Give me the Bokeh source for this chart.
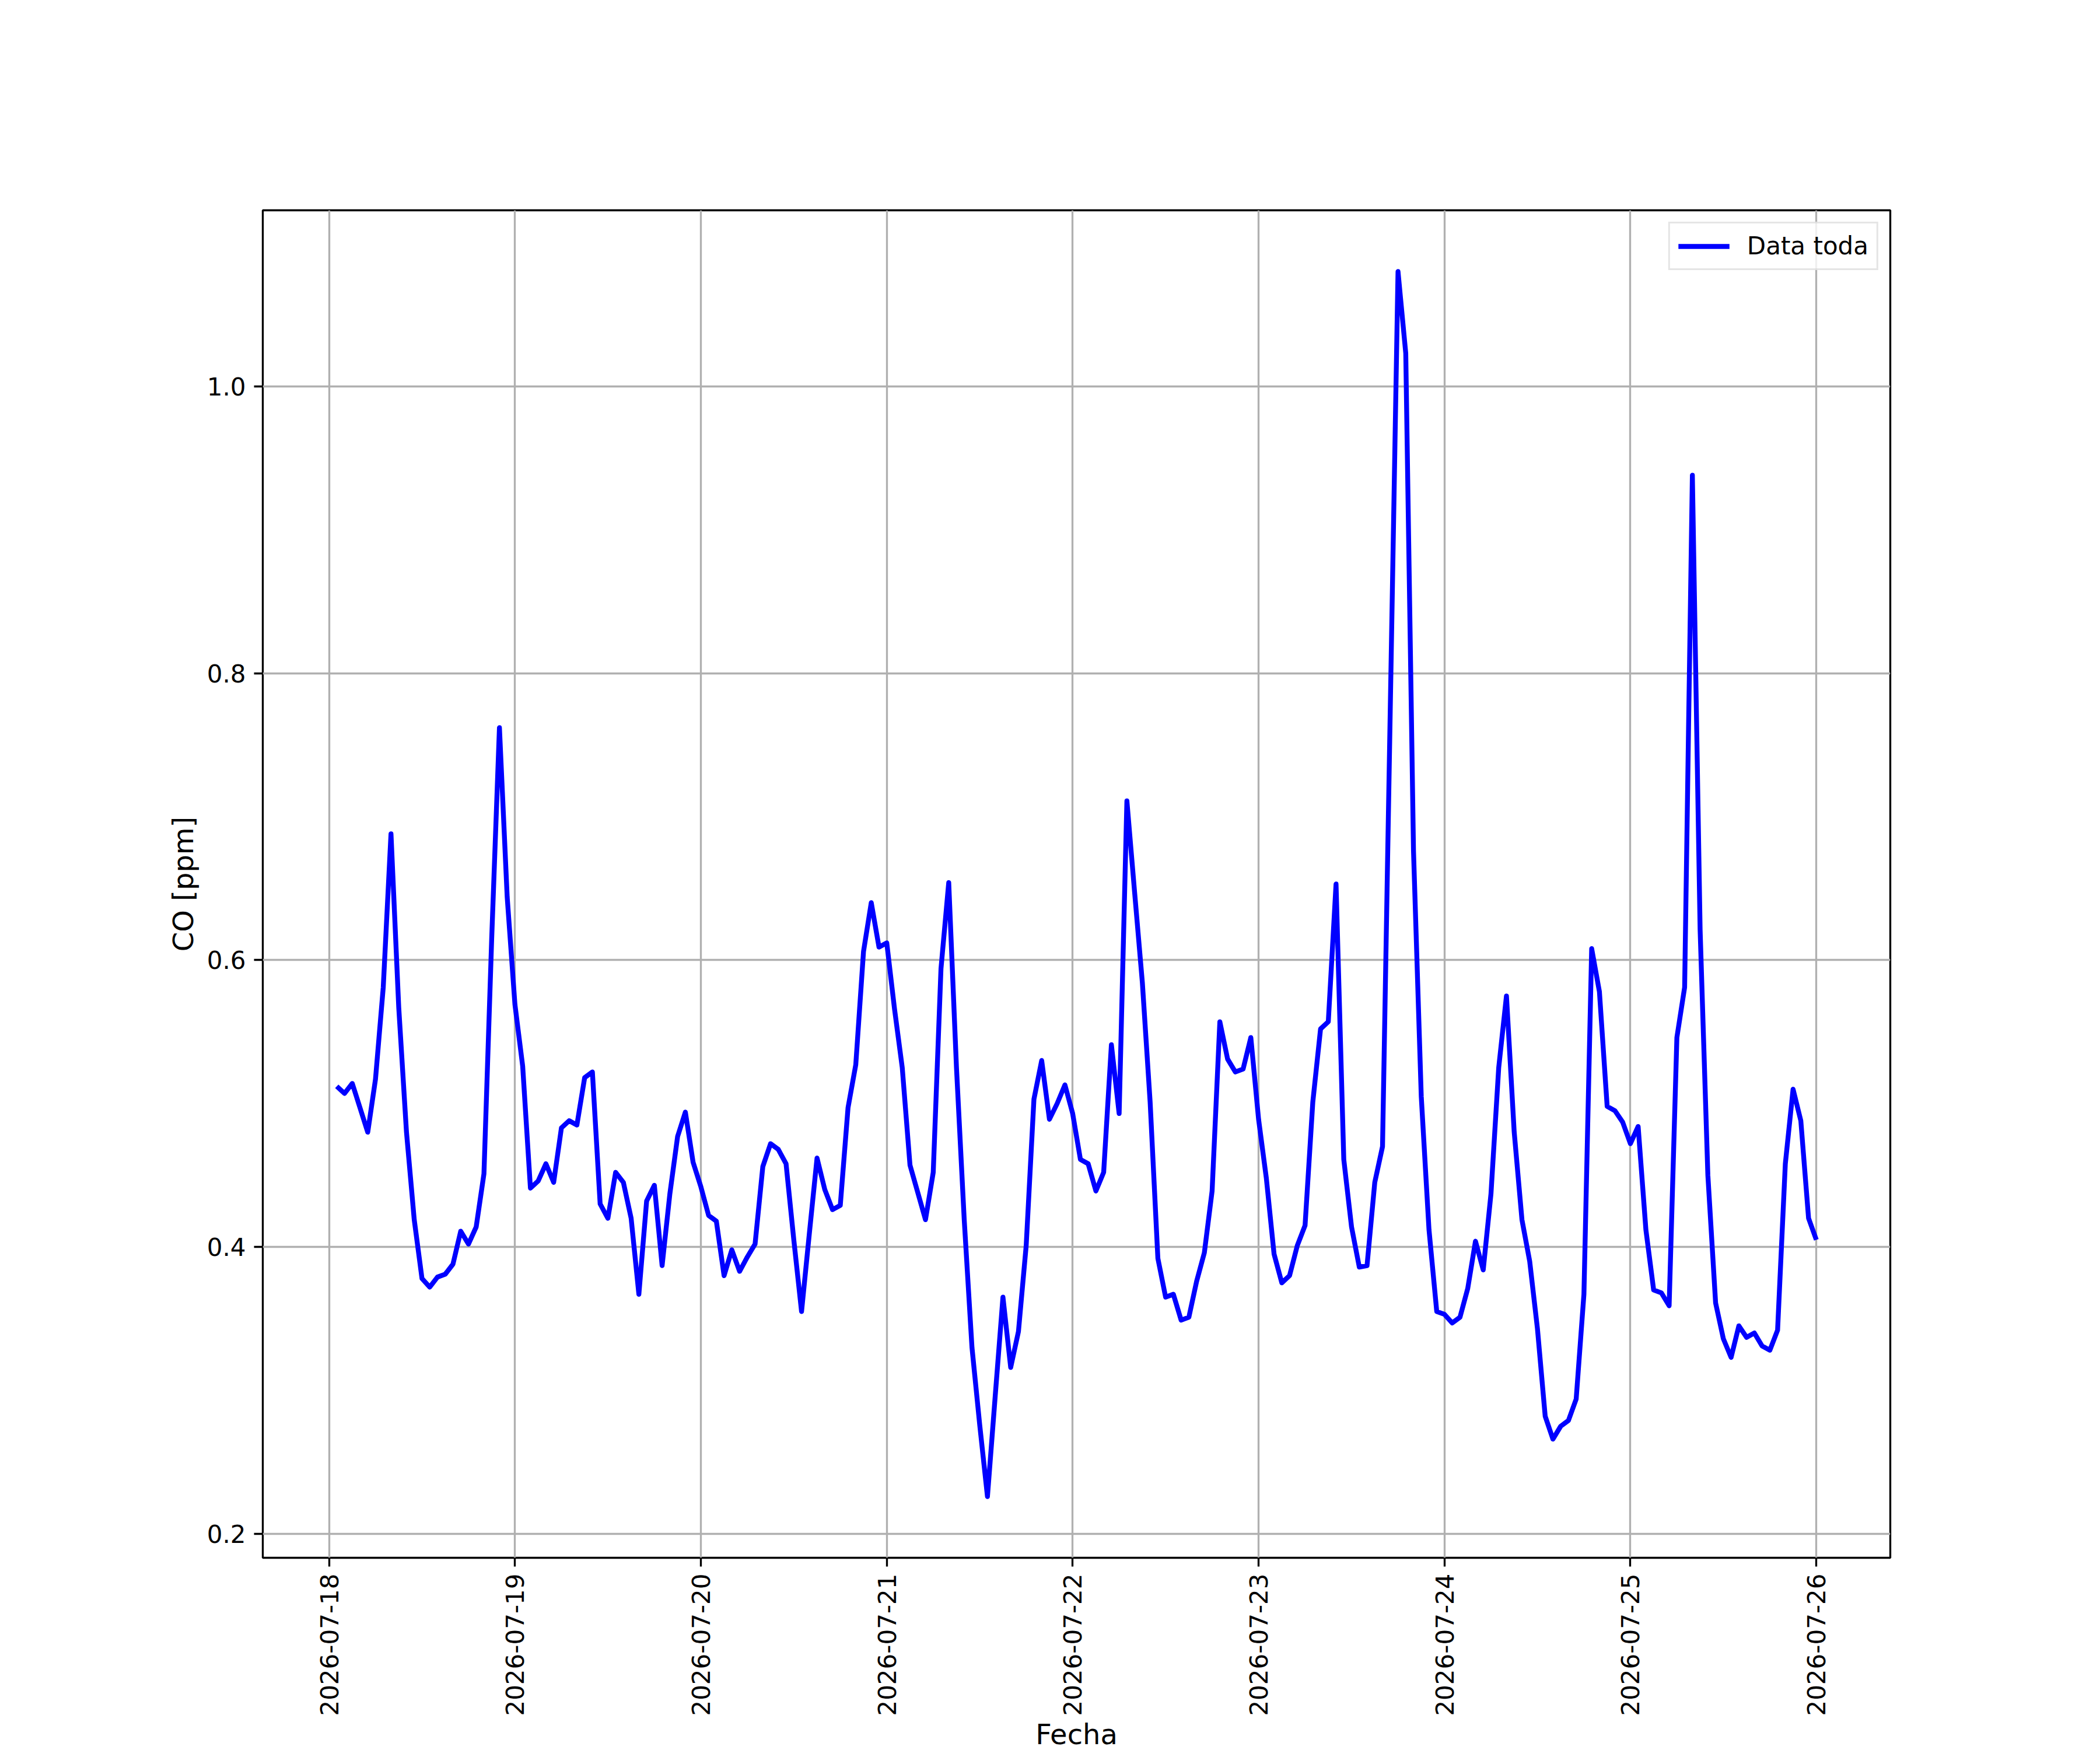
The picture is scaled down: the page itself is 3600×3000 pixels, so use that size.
from math import pi
import pandas as pd
from bokeh.plotting import figure
from bokeh.models import (Range1d, FixedTicker, DatetimeTickFormatter,
                          PrintfTickFormatter)
from bokeh.embed import file_html
from bokeh.resources import INLINE

# ---------------- data ----------------
start_time = "2026-07-18 00:00"
missing_hours = [4]
day_ticks = ["2026-07-18", "2026-07-19", "2026-07-20", "2026-07-21", "2026-07-22",
             "2026-07-23", "2026-07-24", "2026-07-25", "2026-07-26"]
y_ticks = [0.2, 0.4, 0.6, 0.8, 1.0]

co_day18 = [0.512, 0.507, 0.514, 0.480, 0.517, 0.581, 0.688, 0.567, 0.480, 0.419, 0.378,
            0.372, 0.379, 0.381, 0.388, 0.411, 0.402, 0.414, 0.451, 0.615, 0.762, 0.644]
co_day19 = [0.569, 0.526, 0.441, 0.446, 0.458, 0.445, 0.483, 0.488, 0.485, 0.518, 0.522, 0.430,
            0.420, 0.452, 0.445, 0.420, 0.367, 0.432, 0.443, 0.387, 0.437, 0.477, 0.494, 0.459]
co_day20 = [0.442, 0.422, 0.418, 0.380, 0.398, 0.383, 0.393, 0.402, 0.456, 0.472, 0.468, 0.458,
            0.405, 0.355, 0.409, 0.462, 0.440, 0.426, 0.429, 0.497, 0.527, 0.606, 0.640, 0.609]
co_day21 = [0.612, 0.566, 0.525, 0.457, 0.438, 0.419, 0.452, 0.594, 0.654, 0.525, 0.419, 0.330,
            0.276, 0.226, 0.296, 0.365, 0.316, 0.341, 0.401, 0.503, 0.530, 0.489, 0.500, 0.513]
co_day22 = [0.493, 0.461, 0.458, 0.439, 0.452, 0.541, 0.493, 0.711, 0.647, 0.584, 0.501, 0.392,
            0.365, 0.367, 0.349, 0.351, 0.376, 0.396, 0.439, 0.557, 0.531, 0.522, 0.524, 0.546]
co_day23 = [0.489, 0.448, 0.395, 0.375, 0.380, 0.401, 0.415, 0.501, 0.552, 0.557, 0.653, 0.461,
            0.414, 0.386, 0.387, 0.445, 0.470, 0.775, 1.080, 1.023, 0.676, 0.505, 0.412, 0.355]
co_day24 = [0.353, 0.347, 0.351, 0.371, 0.404, 0.384, 0.437, 0.525, 0.575, 0.480, 0.419, 0.390,
            0.343, 0.282, 0.266, 0.275, 0.279, 0.294, 0.367, 0.608, 0.578, 0.498, 0.495, 0.487]
co_day25 = [0.472, 0.484, 0.412, 0.370, 0.368, 0.359, 0.546, 0.581, 0.938, 0.621, 0.450, 0.361,
            0.336, 0.323, 0.345, 0.337, 0.340, 0.331, 0.328, 0.342, 0.458, 0.510, 0.488, 0.420]
co_day26 = [0.405]

co_ppm = co_day18 + co_day19 + co_day20 + co_day21 + co_day22 + co_day23 + co_day24 + co_day25 + co_day26
hours = [h for h in range(1, 193) if h not in missing_hours]
times = pd.Timestamp(start_time) + pd.to_timedelta(hours, unit="h")
assert len(times) == len(co_ppm)

# ---------------- ranges (5% margins) ----------------
tmin, tmax = times.min(), times.max()
tpad = (tmax - tmin) * 0.05
ymin, ymax = min(co_ppm), max(co_ppm)
ypad = (ymax - ymin) * 0.05

FONT = "DejaVu Sans"
LW = 3.33

p = figure(x_axis_type="datetime",
           x_range=Range1d(tmin - tpad, tmax + tpad),
           y_range=Range1d(ymin - ypad, ymax + ypad),
           frame_width=2790, frame_height=2310,
           min_border_left=450, min_border_right=360,
           min_border_top=360, min_border_bottom=320,
           output_backend="svg", toolbar_location=None)

p.background_fill_color = "white"
p.border_fill_color = "white"
p.outline_line_color = "black"
p.outline_line_width = LW

p.line(times, co_ppm, line_color="#0000ff", line_width=8.33, line_join="round",
       legend_label="Data toda")

# x axis
p.xaxis.ticker = FixedTicker(ticks=[pd.Timestamp(d).value / 1e6 for d in day_ticks])
fmt = "%Y-%m-%d"
p.xaxis.formatter = DatetimeTickFormatter(days=fmt, hours=fmt, months=fmt, years=fmt,
                                          hourmin=fmt, minutes=fmt)
p.xaxis.major_label_orientation = pi / 2
p.xaxis.major_label_standoff = 12
p.xaxis.axis_label = "Fecha"
p.xaxis.axis_label_standoff = 0

# y axis
p.yaxis.ticker = FixedTicker(ticks=y_ticks)
p.yaxis.formatter = PrintfTickFormatter(format="%.1f")
p.yaxis.major_label_standoff = 14
p.yaxis.axis_label = "CO [ppm]"
p.yaxis.axis_label_standoff = 10

for ax in (p.xaxis, p.yaxis):
    ax.axis_line_color = None
    ax.major_tick_out = 15
    ax.major_tick_in = 0
    ax.major_tick_line_width = LW
    ax.major_tick_line_color = "black"
    ax.minor_tick_line_color = None
    ax.major_label_text_font = FONT
    ax.major_label_text_font_size = "42px"
    ax.major_label_text_color = "black"
    ax.axis_label_text_font = FONT
    ax.axis_label_text_font_size = "48px"
    ax.axis_label_text_font_style = "normal"
    ax.axis_label_text_color = "black"

p.grid.grid_line_color = "#b0b0b0"
p.grid.grid_line_width = LW

# legend
lg = p.legend[0]
lg.location = "top_right"
lg.margin = 20
lg.padding = 14
lg.spacing = 0
lg.glyph_width = 88
lg.glyph_height = 48
lg.label_height = 48
lg.label_standoff = 30
lg.label_text_font = FONT
lg.label_text_font_size = "42px"
lg.label_text_color = "black"
lg.border_line_color = "#cccccc"
lg.border_line_width = LW
lg.background_fill_alpha = 0.8

open("out.html", "w").write(file_html(p, INLINE))
